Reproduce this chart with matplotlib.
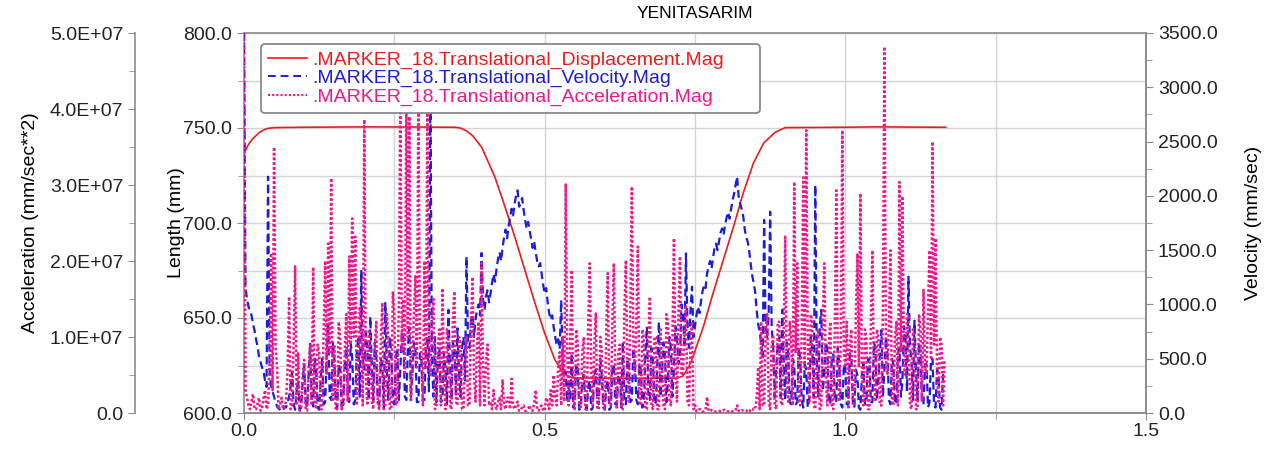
import numpy as np
import matplotlib
matplotlib.use("Agg")
import matplotlib.pyplot as plt
from matplotlib.ticker import MultipleLocator, FuncFormatter
from matplotlib.lines import Line2D

plt.rcParams['font.family'] = ['Liberation Sans', 'DejaVu Sans']

title = "YENITASARIM"
labels = [".MARKER_18.Translational_Displacement.Mag",
          ".MARKER_18.Translational_Velocity.Mag",
          ".MARKER_18.Translational_Acceleration.Mag"]

# sample step of the simulation output (s)
dt = 0.0025

# displacement (mm), sparse samples
disp_t = [0.0, 0.005, 0.01, 0.015, 0.02, 0.025, 0.03, 0.035, 0.04, 0.05, 0.1, 0.2,
          0.3, 0.35, 0.36, 0.37, 0.38, 0.395, 0.417, 0.434, 0.45, 0.467, 0.484,
          0.5, 0.517, 0.531, 0.545, 0.6, 0.65, 0.72, 0.73, 0.74, 0.747, 0.764,
          0.78, 0.797, 0.814, 0.83, 0.847, 0.864, 0.883, 0.9, 0.95, 1.0, 1.05,
          1.1, 1.167]
disp_mm = [736.5, 740.0, 742.5, 744.5, 746.0, 747.5, 748.5, 749.3, 749.8, 750.2, 750.4, 750.6,
           750.5, 750.4, 750.0, 748.5, 746.0, 740.0, 724.4, 708.6, 693.0, 675.3, 657.7,
           642.0, 628.0, 621.0, 618.5, 618.3, 618.3, 618.3, 619.5, 624.5, 630.0, 645.5,
           663.0, 680.5, 698.0, 715.6, 731.4, 742.0, 747.7, 750.2, 750.3, 750.4, 750.6,
           750.5, 750.4]

# velocity (mm/sec), one value per sample
velocity = [
    3500, 1150, 1050, 980, 940, 900, 820, 760, 680, 610,
    520, 470, 420, 380, 300, 240, 2176, 400, 250, 200,
    150, 100, 60, 40, 30, 15, 20, 60, 50, 100,
    150, 250, 380, 80, 30, 200, 300, 30, 50, 280,
    450, 100, 50, 350, 645, 120, 60, 500, 400, 50,
    30, 300, 500, 80, 100, 550, 830, 150, 120, 650,
    550, 100, 50, 450, 400, 30, 80, 450, 600, 120,
    100, 650, 500, 80, 120, 550, 700, 150, 1317, 500,
    400, 750, 600, 120, 887, 450, 120, 650, 500, 100,
    80, 500, 450, 50, 1013, 400, 120, 700, 550, 100,
    80, 500, 600, 120, 400, 750, 700, 150, 120, 600,
    790, 150, 350, 650, 600, 100, 100, 550, 500, 120,
    120, 600, 700, 200, 3000, 500, 150, 700, 100, 500,
    600, 100, 120, 550, 400, 80, 950, 450, 120, 650,
    600, 150, 780, 400, 150, 600, 700, 300, 1440, 650,
    600, 850, 900, 700, 860, 950, 1000, 900, 1474, 1050,
    950, 1080, 1130, 1020, 1100, 1200, 1280, 1210, 1330, 1420,
    1480, 1400, 1520, 1620, 1690, 1610, 1720, 1800, 1880, 1820,
    1930, 2000, 2050, 1900, 1930, 1980, 1870, 1780, 1700, 1760,
    1680, 1600, 1520, 1580, 1480, 1400, 1350, 1380, 1280, 1180,
    1100, 1150, 1020, 920, 860, 900, 790, 700, 630, 680,
    590, 1040, 420, 350, 380, 100, 280, 120, 550, 50,
    100, 450, 400, 30, 50, 300, 350, 80, 30, 250,
    300, 30, 50, 350, 400, 100, 80, 500, 350, 50,
    30, 250, 300, 30, 50, 400, 450, 80, 80, 350,
    350, 50, 657, 120, 80, 500, 450, 100, 120, 600,
    500, 120, 80, 450, 400, 50, 100, 550, 795, 150,
    120, 600, 500, 80, 100, 500, 841, 150, 350, 650,
    550, 100, 300, 700, 600, 150, 400, 800, 700, 450,
    500, 1000, 900, 600, 1470, 800, 600, 950, 1163, 700,
    800, 900, 980, 920, 1030, 1120, 1180, 1150, 1280, 1350,
    1400, 1330, 1430, 1520, 1560, 1500, 1580, 1660, 1700, 1640,
    1730, 1800, 1850, 1790, 1880, 1960, 2020, 2100, 2177, 2000,
    1930, 1880, 1820, 1700, 1620, 1580, 1500, 1380, 1270, 1200,
    1120, 950, 820, 750, 640, 500, 1778, 700, 700, 900,
    1854, 800, 600, 150, 400, 650, 700, 150, 950, 500,
    120, 650, 550, 100, 80, 500, 450, 80, 100, 600,
    500, 120, 50, 450, 400, 50, 120, 700, 600, 150,
    2100, 500, 150, 800, 950, 200, 350, 650, 600, 100,
    80, 500, 540, 120, 100, 600, 450, 80, 50, 450,
    400, 80, 80, 550, 500, 100, 50, 400, 350, 50,
    30, 350, 450, 80, 80, 500, 500, 100, 100, 650,
    600, 120, 300, 550, 764, 150, 400, 700, 550, 120,
    80, 500, 450, 80, 100, 550, 600, 150, 300, 800,
    700, 200, 1255, 600, 500, 120, 850, 400, 120, 650,
    500, 80, 80, 450, 450, 50, 100, 500, 500, 80,
    50, 400, 350, 50, 30, 350, 300]

# acceleration (in units of 1e7 mm/sec**2), one value per sample
accel_e7 = [
    5.0, 0.3, 0.2, 0.1, 0.05, 0.15, 0.25, 0.05, 0.05, 0.12,
    0.2, 0.03, 0.05, 0.2, 0.3, 0.05, 0.1, 0.6, 2.1, 0.3,
    3.5, 0.9, 0.6, 0.05, 0.1, 0.2, 0.05, 0.1, 0.15, 0.6,
    1.53, 0.05, 0.1, 0.9, 1.93, 0.1, 0.8, 0.03, 0.05, 0.5,
    0.7, 0.05, 0.03, 0.6, 0.9, 0.1, 1.92, 0.15, 0.05, 0.9,
    0.8, 0.05, 0.05, 1.1, 2.0, 0.5, 2.23, 0.8, 3.09, 0.15,
    0.9, 0.03, 0.05, 1.2, 1.0, 0.05, 0.1, 0.8, 1.3, 0.15,
    2.06, 0.9, 2.56, 1.0, 2.32, 0.1, 0.5, 1.4, 1.1, 0.1,
    3.86, 0.5, 0.1, 1.1, 1.0, 0.15, 0.05, 0.9, 1.2, 0.1,
    0.05, 1.0, 1.45, 0.05, 0.1, 1.3, 1.0, 0.05, 0.05, 1.6,
    1.3, 0.1, 0.15, 1.5, 4.2, 0.8, 1.5, 0.5, 4.2, 1.0,
    3.9, 0.15, 0.6, 1.3, 1.8, 0.6, 4.2, 0.9, 0.8, 0.1,
    2.0, 0.6, 4.2, 0.7, 0.5, 1.2, 1.5, 0.05, 0.1, 0.9,
    1.1, 0.1, 1.64, 0.5, 0.05, 1.1, 1.0, 0.1, 0.05, 1.3,
    1.6, 0.15, 0.1, 1.0, 0.9, 0.05, 0.05, 0.7, 1.0, 0.1,
    0.1, 1.2, 1.79, 0.5, 0.15, 0.9, 1.2, 0.1, 1.97, 0.6,
    0.1, 0.7, 0.9, 0.1, 0.15, 0.05, 0.3, 0.1, 0.05, 0.15,
    0.2, 0.05, 0.43, 0.1, 0.05, 0.2, 0.2, 0.05, 0.45, 0.1,
    0.05, 0.1, 0.15, 0.03, 0.03, 0.08, 0.1, 0.03, 0.03, 0.06,
    0.1, 0.03, 0.03, 0.12, 0.3, 0.05, 0.03, 0.08, 0.1, 0.03,
    0.03, 0.2, 0.15, 0.05, 0.3, 0.1, 0.5, 0.2, 0.1, 0.6,
    0.8, 0.1, 1.0, 0.15, 3.02, 0.8, 0.1, 1.0, 1.88, 0.15,
    0.05, 1.1, 0.9, 0.1, 0.05, 0.8, 1.0, 0.05, 0.05, 1.2,
    1.97, 0.5, 0.1, 0.9, 1.31, 0.05, 0.05, 1.0, 0.8, 0.1,
    0.05, 1.1, 1.84, 0.15, 0.1, 1.2, 1.97, 0.5, 0.05, 0.8,
    0.9, 0.05, 0.05, 1.3, 2.01, 0.6, 0.15, 1.4, 2.98, 0.9,
    0.5, 1.2, 2.19, 0.15, 0.1, 1.1, 1.0, 0.05, 0.05, 0.9,
    1.53, 0.1, 0.05, 1.0, 1.0, 0.05, 0.05, 1.1, 0.7, 0.1,
    0.05, 1.3, 1.2, 0.15, 0.1, 1.0, 2.3, 0.6, 0.15, 1.3,
    2.06, 0.5, 0.5, 1.1, 1.4, 0.15, 0.1, 0.9, 1.2, 0.05,
    0.1, 0.02, 0.03, 0.05, 0.05, 0.02, 0.02, 0.04, 0.21, 0.03,
    0.02, 0.04, 0.04, 0.02, 0.02, 0.03, 0.03, 0.02, 0.02, 0.04,
    0.04, 0.02, 0.02, 0.03, 0.03, 0.02, 0.02, 0.04, 0.1, 0.03,
    0.02, 0.04, 0.03, 0.02, 0.02, 0.05, 0.04, 0.02, 0.02, 0.06,
    0.05, 0.2, 0.6, 0.05, 1.2, 0.1, 0.1, 1.1, 1.3, 0.15,
    0.05, 0.9, 1.0, 0.1, 0.05, 1.2, 1.2, 0.15, 0.1, 1.0,
    2.32, 0.5, 0.15, 1.2, 1.0, 0.1, 3.04, 0.8, 1.97, 0.15,
    0.1, 1.1, 3.1, 0.6, 3.72, 0.9, 0.15, 1.3, 1.2, 0.1,
    0.05, 1.0, 1.1, 0.05, 0.1, 1.2, 1.97, 0.5, 0.1, 0.9,
    1.2, 0.1, 0.05, 1.1, 2.93, 0.6, 0.15, 1.0, 3.72, 0.8,
    0.6, 1.2, 0.05, 0.9, 1.1, 0.1, 0.1, 1.3, 2.1, 0.6,
    2.89, 0.5, 0.1, 1.1, 1.0, 0.05, 0.05, 1.2, 2.14, 0.5,
    0.15, 1.1, 1.0, 0.1, 0.1, 1.4, 4.82, 0.7, 0.5, 1.2,
    2.14, 0.15, 0.1, 1.0, 1.2, 0.1, 3.04, 0.8, 2.85, 0.6,
    0.5, 1.3, 1.3, 0.1, 0.05, 1.1, 1.0, 0.05, 0.05, 1.3,
    1.1, 0.15, 1.62, 0.6, 0.5, 1.4, 2.14, 0.7, 3.57, 0.9,
    2.3, 0.5, 0.15, 1.0, 0.9, 0.1, 0.7]

t_v = np.arange(len(velocity)) * dt
t_a = np.arange(len(accel_e7)) * dt
accel = np.array(accel_e7) * 1e7

c_red = '#ec1c1c'
c_blue = '#1c1cdc'
c_pink = '#f0168c'
axis_col = '#8c8c8c'
FS = 14
ls_blue = (0, (3.5, 2))
ls_pink = (0, (1, 0.9))

fig = plt.figure(figsize=(12.71, 4.50), dpi=100)
ax = fig.add_axes([244/1271, 1-413/450, (1146-244)/1271, 380/450])
axv = ax.twinx()
axa = ax.twinx()

# length axis
ax.plot(disp_t, disp_mm, color=c_red, lw=1.2, zorder=3)
ax.set_xlim(0, 1.5)
ax.set_ylim(600, 800)
ax.xaxis.set_major_locator(MultipleLocator(0.5))
ax.xaxis.set_minor_locator(MultipleLocator(0.25))
ax.yaxis.set_major_locator(MultipleLocator(50))
ax.yaxis.set_minor_locator(MultipleLocator(25))
ax.xaxis.set_major_formatter(FuncFormatter(lambda v, p: f"{v:.1f}"))
ax.yaxis.set_major_formatter(FuncFormatter(lambda v, p: f"{v:.1f}"))
ax.grid(True, which='both', color='#d4d4d4', lw=1.0)
ax.set_axisbelow(True)
ax.set_ylabel("Length (mm)", fontsize=FS, labelpad=-1)

# velocity axis
axv.plot(t_v, velocity, color=c_blue, lw=1.6, ls=ls_blue)
axv.set_ylim(0, 3500)
axv.yaxis.set_major_locator(MultipleLocator(500))
axv.yaxis.set_minor_locator(MultipleLocator(250))
axv.yaxis.set_major_formatter(FuncFormatter(lambda v, p: f"{v:.1f}"))
axv.set_ylabel("Velocity (mm/sec)", fontsize=FS, labelpad=20)

# acceleration axis
axa.plot(t_a, accel, color=c_pink, lw=1.8, ls=ls_pink)
axa.set_ylim(0, 5e7)
axa.yaxis.set_major_locator(MultipleLocator(1e7))
axa.yaxis.set_minor_locator(MultipleLocator(0.5e7))
axa.yaxis.set_major_formatter(FuncFormatter(lambda v, p: "0.0" if v == 0 else f"{v:.1E}"))
axa.yaxis.set_ticks_position('left')
axa.yaxis.set_label_position('left')
axa.spines['left'].set_position(('axes', -(244-135)/902))
for s in ['top', 'right', 'bottom']:
    axa.spines[s].set_visible(False)
axa.spines['left'].set_visible(True)
axa.set_ylabel("Acceleration (mm/sec**2)", fontsize=FS, labelpad=8)

for a in (ax, axv, axa):
    for s in a.spines.values():
        s.set_color(axis_col)
        s.set_linewidth(1.2)
    a.tick_params(which='both', colors=axis_col, labelcolor='#222222',
                  labelsize=FS, direction='out')
    a.tick_params(which='major', length=5)
    a.tick_params(which='minor', length=4)
ax.tick_params(axis='x', pad=2)
for s in ['left', 'right', 'top']:
    axv.spines[s].set_visible(s == 'right')

ax.set_title(title, fontsize=12.5, pad=11)

handles = [Line2D([], [], color=c_red, lw=1.2),
           Line2D([], [], color=c_blue, lw=1.4, ls=(0, (4, 2.5))),
           Line2D([], [], color=c_pink, lw=1.5, ls=(0, (1, 1)))]
leg = axa.legend(handles, labels, loc='upper left',
                 bbox_to_anchor=((261-244)/902, (413-120)/380, (760-261)/902, 76/380),
                 mode='expand', borderaxespad=0, fontsize=FS, labelspacing=0.05,
                 handlelength=2.0, handletextpad=0.3, borderpad=0.35,
                 labelcolor=[c_red, c_blue, c_pink], framealpha=1,
                 fancybox=True, edgecolor='#808080')
leg.get_frame().set_linewidth(1.2)
leg.set_zorder(10)

fig.savefig("out.png", dpi=100)
